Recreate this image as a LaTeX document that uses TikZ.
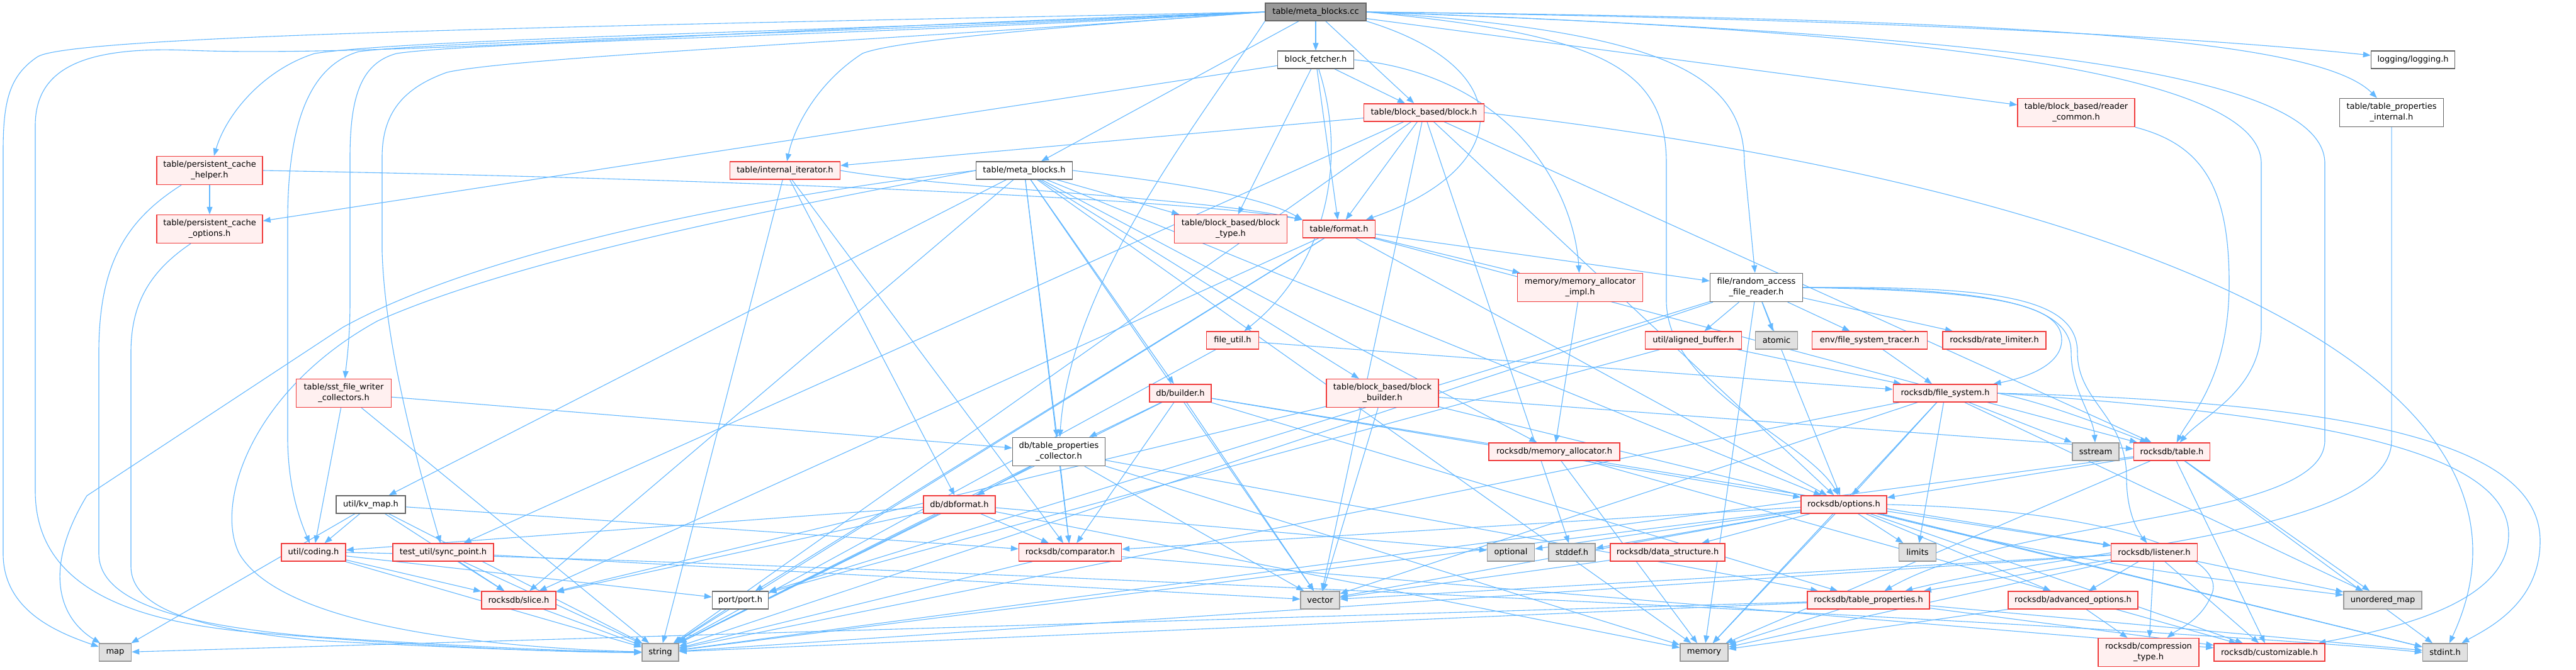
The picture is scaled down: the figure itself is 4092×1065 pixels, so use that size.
\documentclass[tikz,border=0pt]{standalone}
\usepackage{fontspec}
\setmainfont{DejaVu Sans}
\usetikzlibrary{arrows.meta}
\pgfdeclarelayer{bg}
\pgfsetlayers{bg,main}
\definecolor{edgeblue}{HTML}{63B8FF}
\definecolor{redbd}{HTML}{F03C3C}
\definecolor{redfill}{HTML}{FFF0F0}
\definecolor{grayfill}{HTML}{E0E0E0}
\definecolor{graybd}{HTML}{999999}
\definecolor{darkbd}{HTML}{666666}
\definecolor{rootfill}{HTML}{999999}
\newcommand{\myedges}[2]{\foreach \t in {#2} {\draw[e] (#1) -- (\t);}}
\tikzset{
  box/.style={draw, line width=1.4pt, inner sep=0pt, minimum height=28pt, align=center,
    font=\fontsize{13}{17}\selectfont, text=black},
  redbox/.style={box, draw=redbd, fill=redfill},
  whitebox/.style={box, draw=darkbd, fill=white},
  sysbox/.style={box, draw=graybd, fill=grayfill},
  rootbox/.style={box, draw=darkbd, fill=rootfill},
  two/.style={minimum height=45pt},
  e/.style={draw=edgeblue, line width=1.1pt, -{Triangle[length=12pt,width=9pt]}}
}
\begin{document}
\begin{tikzpicture}[x=1pt,y=-1pt]
\useasboundingbox (0,0) rectangle (4092,1065);
% nodes
\node[rootbox,minimum width=160pt] (mbcc) at (2090,19) {table/meta\_blocks.cc};
\node[whitebox,minimum width=121pt] (bf) at (2090,95) {block\_fetcher.h};
\node[redbox,two,minimum width=168pt] (pch) at (333,271) {table/persistent\_cache\\\_helper.h};
\node[redbox,two,minimum width=168pt] (pco) at (333,364) {table/persistent\_cache\\\_options.h};
\node[redbox,minimum width=175pt] (ii) at (1247,271) {table/internal\_iterator.h};
\node[whitebox,minimum width=153pt] (mbh) at (1627,271) {table/meta\_blocks.h};
\node[redbox,minimum width=191pt] (blk) at (2262,179) {table/block\_based/block.h};
\node[redbox,two,minimum width=186pt] (rc) at (3298,179) {table/block\_based/reader\\\_common.h};
\node[whitebox,minimum width=133pt] (log) at (3833,95) {logging/logging.h};
\node[whitebox,two,minimum width=165pt] (tpi) at (3799,179) {table/table\_properties\\\_internal.h};
\node[redbox,two,minimum width=179pt] (bt) at (1955,364) {table/block\_based/block\\\_type.h};
\node[redbox,minimum width=115pt] (fmt) at (2127,364) {table/format.h};
\node[redbox,two,minimum width=199pt] (mai) at (2510,457) {memory/memory\_allocator\\\_impl.h};
\node[whitebox,two,minimum width=147pt] (rafr) at (2790,457) {file/random\_access\\\_file\_reader.h};
\node[redbox,minimum width=83pt] (fu) at (1958,541) {file\_util.h};
\node[redbox,minimum width=153pt] (ab) at (2690,541) {util/aligned\_buffer.h};
\node[sysbox,minimum width=67pt] (atomic) at (2822,541) {atomic};
\node[redbox,minimum width=183pt] (fst) at (2970,541) {env/file\_system\_tracer.h};
\node[redbox,minimum width=164pt] (rl) at (3168,541) {rocksdb/rate\_limiter.h};
\node[redbox,two,minimum width=151pt] (sfc) at (546,625) {table/sst\_file\_writer\\\_collectors.h};
\node[redbox,minimum width=98pt] (bld) at (1875,625) {db/builder.h};
\node[redbox,two,minimum width=178pt] (bb) at (2196,625) {table/block\_based/block\\\_builder.h};
\node[redbox,minimum width=165pt] (fs) at (3090,625) {rocksdb/file\_system.h};
\node[whitebox,two,minimum width=147pt] (tpc) at (1682,718) {db/table\_properties\\\_collector.h};
\node[redbox,minimum width=208pt] (ma) at (2469,718) {rocksdb/memory\_allocator.h};
\node[sysbox,minimum width=74pt] (sstream) at (3329,718) {sstream};
\node[redbox,minimum width=121pt] (tbl) at (3450,718) {rocksdb/table.h};
\node[whitebox,minimum width=110pt] (kv) at (589,802) {util/kv\_map.h};
\node[redbox,minimum width=114pt] (dbf) at (1524,802) {db/dbformat.h};
\node[redbox,minimum width=136pt] (opt) at (2929,802) {rocksdb/options.h};
\node[redbox,minimum width=102pt] (coding) at (498,878) {util/coding.h};
\node[redbox,minimum width=160pt] (sp) at (704,878) {test\_util/sync\_point.h};
\node[redbox,minimum width=163pt] (cmp) at (1700,878) {rocksdb/comparator.h};
\node[sysbox,minimum width=75pt] (optional) at (2400,878) {optional};
\node[sysbox,minimum width=74pt] (stddef) at (2497,878) {stddef.h};
\node[redbox,minimum width=182pt] (ds) at (2649,878) {rocksdb/data\_structure.h};
\node[sysbox,minimum width=59pt] (limits) at (3046,878) {limits};
\node[redbox,minimum width=137pt] (lst) at (3422,878) {rocksdb/listener.h};
\node[redbox,minimum width=118pt] (slice) at (824,954) {rocksdb/slice.h};
\node[whitebox,minimum width=89pt] (port) at (1176,954) {port/port.h};
\node[sysbox,minimum width=62pt] (vector) at (2097,954) {vector};
\node[redbox,minimum width=194pt] (tp) at (2968,954) {rocksdb/table\_properties.h};
\node[redbox,minimum width=206pt] (ao) at (3293,954) {rocksdb/advanced\_options.h};
\node[sysbox,minimum width=124pt] (umap) at (3785,954) {unordered\_map};
\node[sysbox,minimum width=51pt] (map) at (183,1037) {map};
\node[sysbox,minimum width=58pt] (string) at (1049,1037) {string};
\node[sysbox,minimum width=76pt] (memory) at (2707,1037) {memory};
\node[redbox,two,minimum width=160pt] (ct) at (3413,1037) {rocksdb/compression\\\_type.h};
\node[redbox,minimum width=176pt] (cust) at (3605,1037) {rocksdb/customizable.h};
\node[sysbox,minimum width=71pt] (stdint) at (3884,1037) {stdint.h};

\begin{pgfonlayer}{bg}
\fill[white] (0,0) rectangle (4092,1065);
% root edges
\draw[e] (mbcc.west) .. controls (1000,40) and (120,55) .. (60,90) .. controls (15,120) and (5,160) .. (5,240) -- (5,880) .. controls (5,970) and (90,1005) .. (map);
\draw[e] (mbcc.west) .. controls (1200,45) and (600,92) .. (300,80) .. controls (130,73) and (56,110) .. (56,200) -- (56,780) .. controls (56,920) and (180,985) .. (400,1005) .. controls (700,1030) and (900,1037) .. (string);
\draw[e] (mbcc.west) .. controls (1300,50) and (650,62) .. (500,85) .. controls (420,110) and (360,180) .. (pch);
\draw[e] (mbcc.west) .. controls (1300,55) and (700,65) .. (570,82) .. controls (490,105) and (457,200) .. (457,350) -- (457,700) .. controls (458,780) and (478,830) .. (coding);
\draw[e] (mbcc.west) .. controls (1350,58) and (760,66) .. (630,85) .. controls (575,100) and (556,150) .. (556,250) -- (556,480) .. controls (556,540) and (550,580) .. (sfc);
\draw[e] (mbcc.west) .. controls (1450,62) and (820,90) .. (710,115) .. controls (640,140) and (607,180) .. (607,250) -- (607,400) .. controls (612,560) and (670,760) .. (sp);
\draw[e] (mbcc.west) .. controls (1650,45) and (1420,65) .. (1370,85) .. controls (1300,130) and (1262,200) .. (ii);
\draw[e] (mbcc) -- (mbh);
\draw[e] (mbcc) -- (bf);
\draw[e] (mbcc) -- (blk);
\draw[e] (mbcc.south east) .. controls (2420,110) and (2400,270) .. (fmt);
\draw[e] (mbcc.south west) .. controls (1900,200) and (1700,450) .. (tpc);
\draw[e] (mbcc.east) .. controls (2650,50) and (2771,120) .. (2771,260) -- (rafr);
\draw[e] (mbcc.east) .. controls (2550,55) and (2647,110) .. (2647,260) -- (2647,480) .. controls (2650,620) and (2870,700) .. (opt);
\draw[e] (mbcc) -- (rc);
\draw[e] (mbcc.east) .. controls (3000,30) and (3500,60) .. (log);
\draw[e] (mbcc.east) .. controls (3200,30) and (3680,60) .. (tpi);
\draw[e] (mbcc.east) .. controls (3100,50) and (3592,120) .. (3592,260) -- (3592,520) .. controls (3592,620) and (3500,660) .. (tbl);
\draw[e] (mbcc.east) .. controls (3150,55) and (3693,110) .. (3693,260) -- (3693,700) .. controls (3693,830) and (3200,820) .. (tp);
% block fetcher
\myedges{bf}{blk,fmt,bt,pco}
\draw[e] (bf) .. controls (2140,250) and (2110,420) .. (fu);
\draw[e] (bf.east) .. controls (2400,120) and (2500,300) .. (mai);
% persistent cache
\draw[e] (pch) -- (pco);
\draw[e] (pch.east) .. controls (1200,285) and (1900,318) .. (fmt.north west);
\draw[e] ([xshift=-45pt]pch.south) .. controls (200,350) and (157,420) .. (157,560) -- (157,880) .. controls (157,960) and (300,995) .. (500,1012) .. controls (800,1032) and (950,1036) .. (string);
\draw[e] ([xshift=-30pt]pco.south) .. controls (240,430) and (208,480) .. (208,560) -- (208,900) .. controls (208,970) and (320,1000) .. (500,1018) .. controls (800,1034) and (950,1037) .. (string);
% left group
\myedges{sfc}{tpc,coding,string}
\myedges{kv}{coding,map,string,cmp,slice}
\myedges{coding}{slice,port,string}
\draw[e] (coding.east) .. controls (1500,900) and (3500,1000) .. (stdint.west);
\myedges{sp}{slice,string,vector}
\myedges{slice}{string}
\myedges{port}{string}
\myedges{ii}{dbf,cmp,string}
\draw[e] (ii.east) .. controls (1500,300) and (1900,312) .. (fmt.north west);
% meta_blocks.h
\draw[e] (mbh.west) .. controls (1300,300) and (800,380) .. (545,520) -- (138,788) .. controls (70,900) and (90,980) .. (map);
\draw[e] (mbh.west) .. controls (1300,320) and (850,400) .. (600,510) .. controls (400,620) and (340,800) .. (380,880) .. controls (450,1000) and (800,1030) .. (string);
\myedges{mbh}{memory,vector,bld,tpc,cmp,ma,opt,slice,bb,bt,kv}
\draw[e] (mbh.east) .. controls (1850,288) and (2000,310) .. (fmt.north west);
\myedges{bld}{tpc,cmp,string,vector,opt,tp,lst}
\myedges{tpc}{dbf,cmp,memory,string,vector,tp}
\myedges{dbf}{cmp,slice,string,memory,optional,coding}
\myedges{cmp}{string,cust}
% block.h, format
\myedges{blk}{fmt,ii,sp,vector,stddef,string,opt,tbl}
\draw[e] (blk.east) .. controls (3400,300) and (4088,600) .. (stdint);
\myedges{fmt}{rafr,mai,port,slice,string,opt,tbl}
\myedges{mai}{ma}
\myedges{ma}{memory,cust}
\myedges{bb}{vector,slice,tbl,stdint}
% file reader
\myedges{rafr}{ab,atomic,fst,rl,opt,string,port,memory}
\draw[e] (rafr.east) .. controls (3150,462) and (3275,480) .. (3275,540) .. controls (3275,580) and (3220,600) .. (fs);
\draw[e] (rafr.east) .. controls (3150,458) and (3290,480) .. (3290,560) .. controls (3290,620) and (3325,660) .. (sstream);
\draw[e] (rafr.east) .. controls (3160,455) and (3300,470) .. (3300,560) .. controls (3300,640) and (3378,660) .. (3378,760) .. controls (3378,820) and (3400,850) .. (lst);
\myedges{ab}{fs,port}
\myedges{fst}{fs}
\myedges{fu}{fs,string}
\myedges{fs}{sstream,opt,limits,string,memory,vector,umap}
\draw[e] (fs.east) .. controls (3250,640) and (3350,680) .. (tbl);
\draw[e] (fs.east) .. controls (3800,640) and (4035,720) .. (4035,860) .. controls (4035,960) and (3950,1000) .. (stdint);
\draw[e] (fs.east) .. controls (3700,660) and (3985,720) .. (3985,850) .. controls (3985,960) and (3800,1000) .. (cust);
\myedges{tbl}{opt,cust,memory,string,umap,stdint}
\myedges{opt}{limits,lst,ao,cmp,ds,stddef,cust,memory,string,vector,stdint,optional}
\draw[e] (opt.east) .. controls (3350,810) and (3530,880) .. (3515,940) .. controls (3500,985) and (3460,1000) .. (ct);
\draw[e] (opt) .. controls (3300,900) and (3600,930) .. (umap);
\myedges{lst}{umap,cust,ct,tp,ao,memory,string,vector}
\myedges{ao}{ct,memory}
\myedges{tp}{cust,map,memory,string,stdint}
\myedges{ds}{vector}
\draw[e] (tpi.south) -- (3799,700) .. controls (3799,850) and (3300,870) .. (tp);
\draw[e] (rc.south east) .. controls (3500,230) and (3541,300) .. (3541,450) .. controls (3541,600) and (3480,660) .. (tbl);
\end{pgfonlayer}
\end{tikzpicture}
\end{document}
